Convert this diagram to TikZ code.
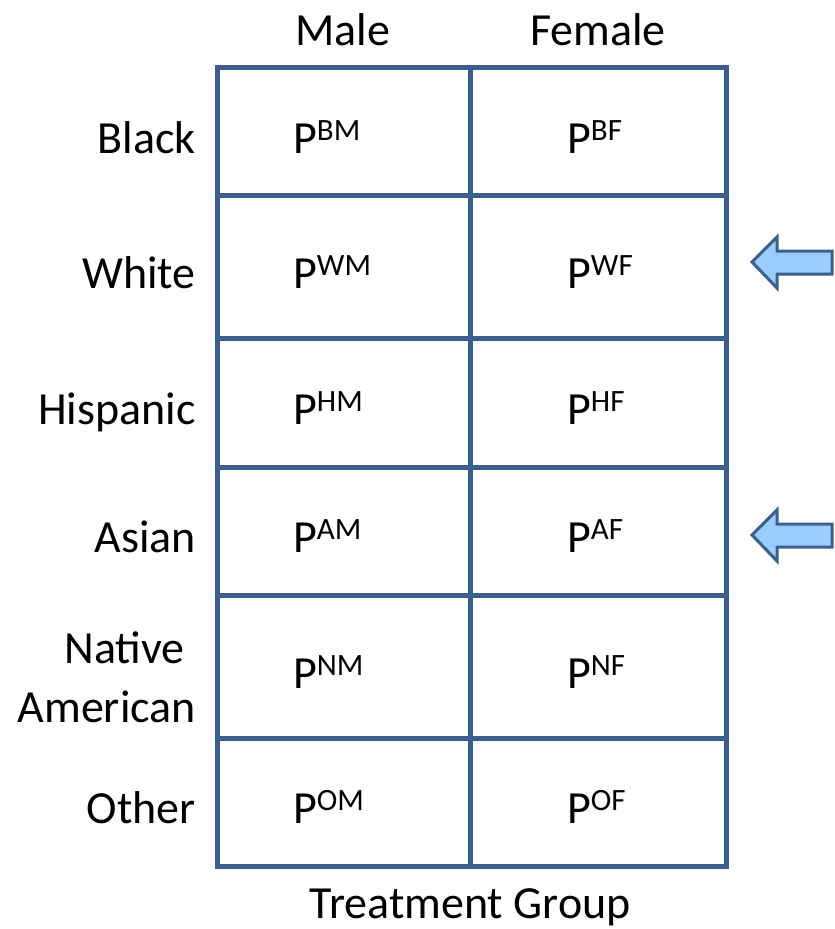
\documentclass[tikz,border=0pt]{standalone}
\usepackage{fontspec}
\setmainfont{Carlito}
\definecolor{gridblue}{RGB}{61,95,143}
\definecolor{arrowfill}{RGB}{153,204,255}
\tikzset{
  lbl/.style={font=\fontsize{46}{56}\selectfont, inner sep=0pt},
  rowlbl/.style={lbl, anchor=base east},
  cell/.style={lbl, anchor=base west},
  head/.style={lbl, anchor=base},
  gridline/.style={draw=gridblue, line width=5pt},
  bluearrow/.style={draw=gridblue, line width=3pt, fill=arrowfill, line join=miter}
}
\newcommand{\Pcell}[1]{P\raisebox{0.28em}{\fontsize{31}{34}\selectfont #1}}
\begin{document}
\begin{tikzpicture}[x=1pt,y=-1pt]
\useasboundingbox (0,0) rectangle (835,929);
% grid
\draw[gridline] (217,67) rectangle (726,866);
\draw[gridline] (470,67) -- (470,866);
\foreach \yy in {195,338,467,595,738} \draw[gridline] (217,\yy) -- (726,\yy);
% headers
\node[head] (male) at (343,45) {Male};
\node[head] (female) at (598,45) {Female};
\node[head] (tg) at (470,918) {Treatment Group};
% row labels
\node[rowlbl] (black) at (196,153) {Black};
\node[rowlbl] (white) at (196,288) {White};
\node[rowlbl] (hisp) at (196,424) {Hispanic};
\node[rowlbl] (asian) at (196,552) {Asian};
\node[rowlbl] (native) at (185,663) {Native};
\node[rowlbl] (american) at (196,722) {American};
\node[rowlbl] (other) at (196,823) {Other};
% cells
\node[cell] (bm) at (293,153) {\Pcell{BM}};
\node[cell] (bf) at (567,153) {\Pcell{BF}};
\node[cell] (wm) at (293,288) {\Pcell{WM}};
\node[cell] (wf) at (567,288) {\Pcell{WF}};
\node[cell] (hm) at (293,424) {\Pcell{HM}};
\node[cell] (hf) at (567,424) {\Pcell{HF}};
\node[cell] (am) at (293,552) {\Pcell{AM}};
\node[cell] (af) at (567,552) {\Pcell{AF}};
\node[cell] (nm) at (293,688) {\Pcell{NM}};
\node[cell] (nf) at (567,688) {\Pcell{NF}};
\node[cell] (om) at (293,823) {\Pcell{OM}};
\node[cell] (of) at (567,823) {\Pcell{OF}};
% arrows
\draw[bluearrow] (752,262) -- (777,237) -- (777,251) -- (832,251) -- (832,274) -- (777,274) -- (777,288) -- cycle;
\draw[bluearrow] (752,535) -- (777,510) -- (777,524) -- (832,524) -- (832,547) -- (777,547) -- (777,561) -- cycle;
\end{tikzpicture}
\end{document}
